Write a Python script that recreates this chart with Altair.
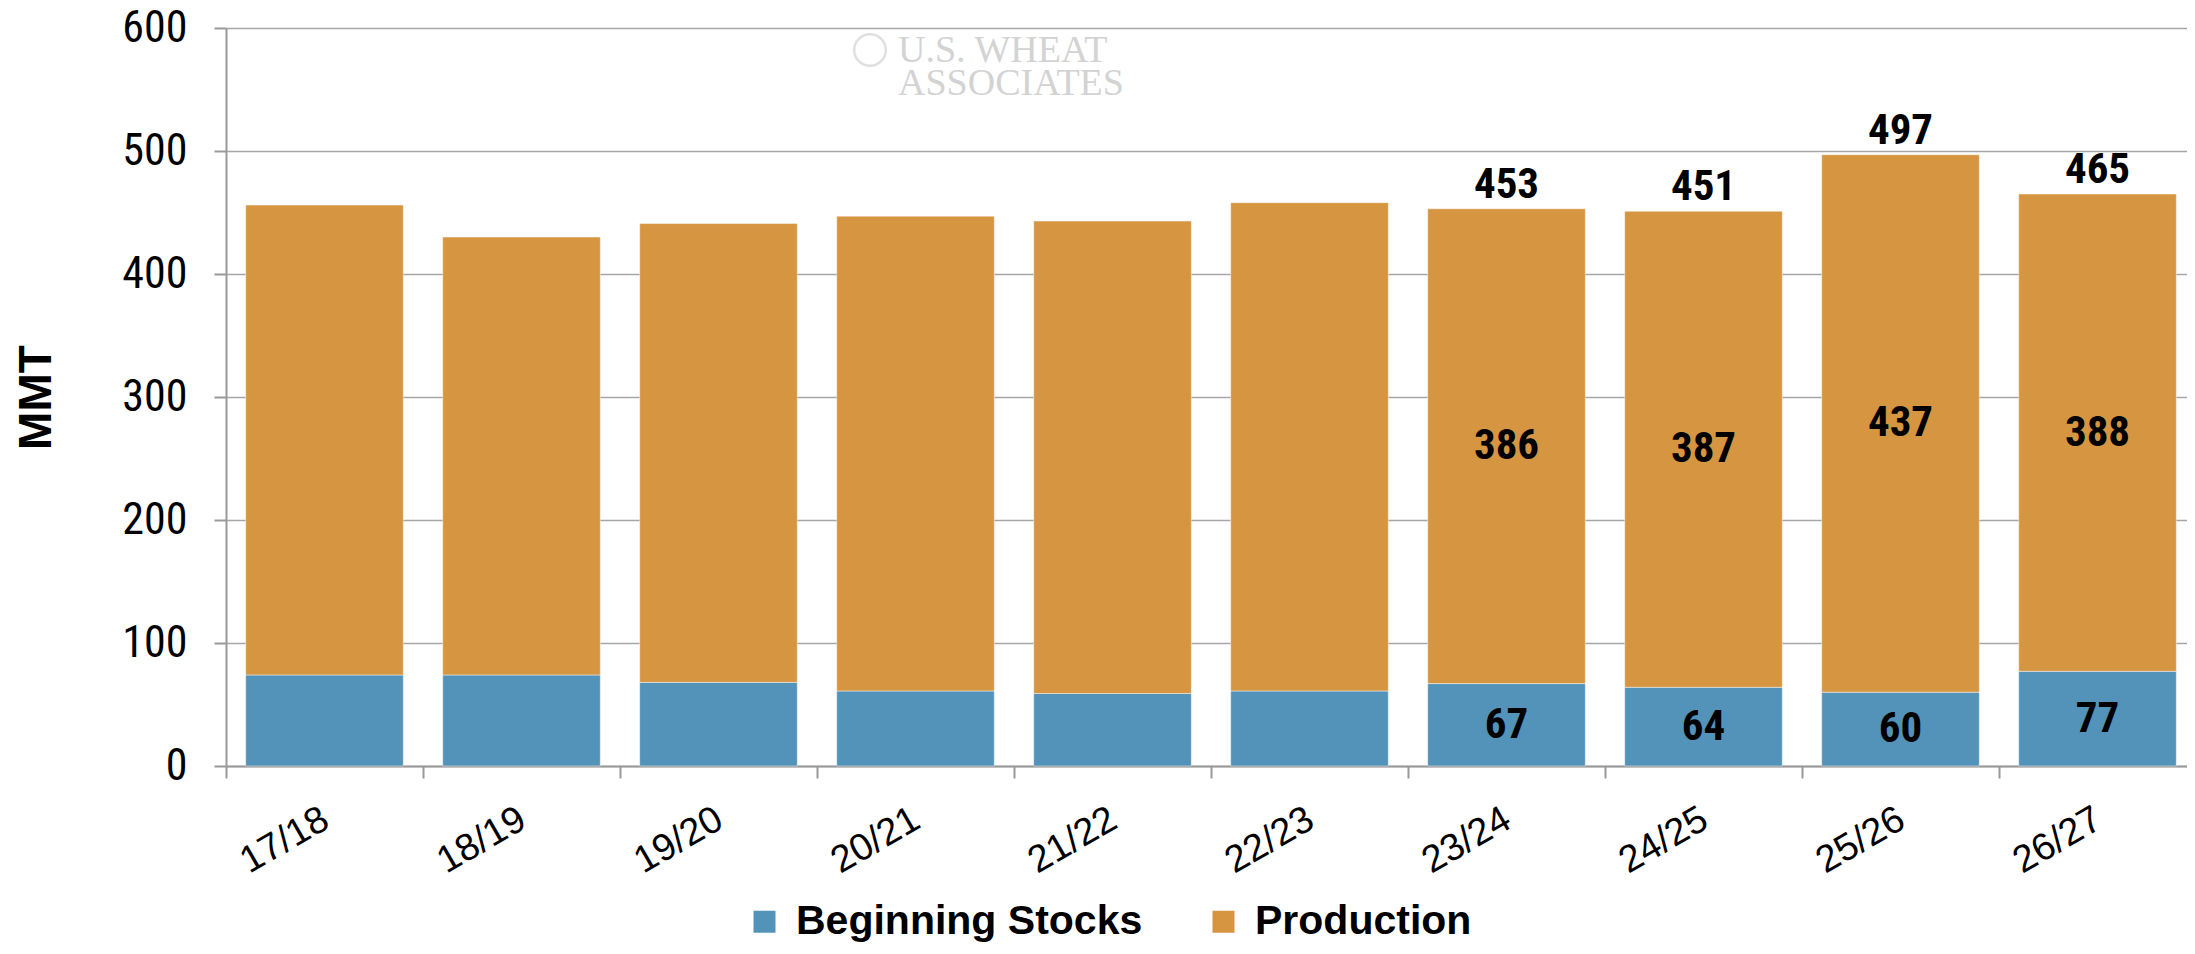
import altair as alt
import pandas as pd

seasons = ["17/18", "18/19", "19/20", "20/21", "21/22", "22/23", "23/24", "24/25", "25/26", "26/27"]
beginning_stocks = [74, 74, 68, 61, 59, 61, 67, 64, 60, 77]
production = [382, 356, 373, 386, 384, 397, 386, 387, 437, 388]
series_names = ["Beginning Stocks", "Production"]
series_colors = ["#5393B9", "#D69540"]
labelled_seasons = ["23/24", "24/25", "25/26", "26/27"]
y_ticks = [0, 100, 200, 300, 400, 500, 600]
watermark_lines = ["U.S. WHEAT", "ASSOCIATES"]

rows = []
for i, s in enumerate(seasons):
    rows.append({"season": s, "series": series_names[0], "value": beginning_stocks[i], "order": 0,
                 "labelled": s in labelled_seasons})
    rows.append({"season": s, "series": series_names[1], "value": production[i], "order": 1,
                 "labelled": s in labelled_seasons})
df = pd.DataFrame(rows)

totals = pd.DataFrame({
    "season": seasons,
    "total": [a + b for a, b in zip(beginning_stocks, production)],
    "labelled": [s in labelled_seasons for s in seasons],
})

NARROW = "Roboto Condensed, Liberation Sans Narrow, Liberation Sans"
SANS = "Liberation Sans"

x_enc = alt.X(
    "season:N",
    sort=seasons,
    title=None,
    scale=alt.Scale(paddingInner=0.2, paddingOuter=0.1),
    axis=alt.Axis(
        labelAngle=330, labelAlign="right", labelBaseline="top",
        labelFont=SANS, labelFontSize=38, labelColor="#000000",
        labelPadding=22, tickSize=12, tickWidth=2, tickColor="#999999",
        tickOffset=-98.5, labelOffset=90,
        domainColor="#999999", domainWidth=2, grid=False,
    ),
)

y_scale = alt.Scale(domain=[0, 600], nice=False)

bars = alt.Chart(df).mark_bar(stroke="#ffffff", strokeWidth=1, strokeOpacity=0.45).encode(
    x=x_enc,
    y=alt.Y(
        "value:Q", stack="zero", scale=y_scale,
        axis=alt.Axis(
            values=y_ticks, title="MMT",
            titleFont=SANS, titleFontSize=46, titleFontWeight="bold", titleColor="#000000",
            titleAngle=270, titleX=-176, titleY=369, titleAlign="center", titleBaseline="alphabetic",
            labelFont=NARROW, labelFontSize=44, labelColor="#000000", labelPadding=27,
            tickSize=12, tickWidth=2, tickColor="#999999",
            domainColor="#999999", domainWidth=2,
            grid=True, gridColor="#A6A6A6", gridWidth=1.5,
        ),
    ),
    color=alt.Color(
        "series:N",
        scale=alt.Scale(domain=series_names, range=series_colors),
        legend=alt.Legend(
            title=None, orient="none", direction="horizontal",
            legendX=518, legendY=873,
            symbolType="square", symbolSize=484, symbolStrokeWidth=0,
            labelFont=SANS, labelFontSize=41, labelFontWeight="bold", labelColor="#000000",
            labelOffset=11, columnPadding=60, padding=0, labelLimit=0,
        ),
    ),
    order=alt.Order("order:Q", sort="ascending"),
)

mid_labels = alt.Chart(df).transform_stack(
    stack="value", groupby=["season"], as_=["y0", "y1"],
    sort=[alt.SortField("order", order="ascending")],
).transform_calculate(
    mid="(datum.y0 + datum.y1) / 2"
).transform_filter(
    "datum.labelled"
).mark_text(
    font=NARROW, fontSize=43, fontWeight="bold", color="#000000", baseline="middle",
).encode(
    x=alt.X("season:N", sort=seasons),
    y=alt.Y("mid:Q", scale=y_scale),
    text=alt.Text("value:Q"),
)

total_labels = alt.Chart(totals).transform_filter(
    "datum.labelled"
).mark_text(
    font=NARROW, fontSize=43, fontWeight="bold", color="#000000", baseline="alphabetic", dy=-11,
).encode(
    x=alt.X("season:N", sort=seasons),
    y=alt.Y("total:Q", scale=y_scale),
    text=alt.Text("total:Q"),
)

wm = pd.DataFrame({"text": ["\n".join(watermark_lines)]})
watermark = alt.Chart(wm).mark_text(
    font="Liberation Serif", fontSize=38, color="#D3D3D3",
    align="left", baseline="alphabetic", lineBreak="\n", lineHeight=33,
).encode(
    x=alt.value(672),
    y=alt.value(34),
    text="text:N",
)

logo = alt.Chart(wm).mark_point(
    shape="circle", filled=False, color="#D3D3D3", strokeWidth=2.5, size=1000,
).encode(
    x=alt.value(644),
    y=alt.value(22),
)

chart = alt.layer(watermark, logo, bars, mid_labels, total_labels).properties(
    width=1970,
    height=738,
    autosize=alt.AutoSizeParams(type="none"),
    padding={"left": 218, "top": 20, "right": -9, "bottom": 180},
).configure_view(
    stroke=None
)

chart.save("out.html", embed_options={"renderer": "svg", "actions": False})
